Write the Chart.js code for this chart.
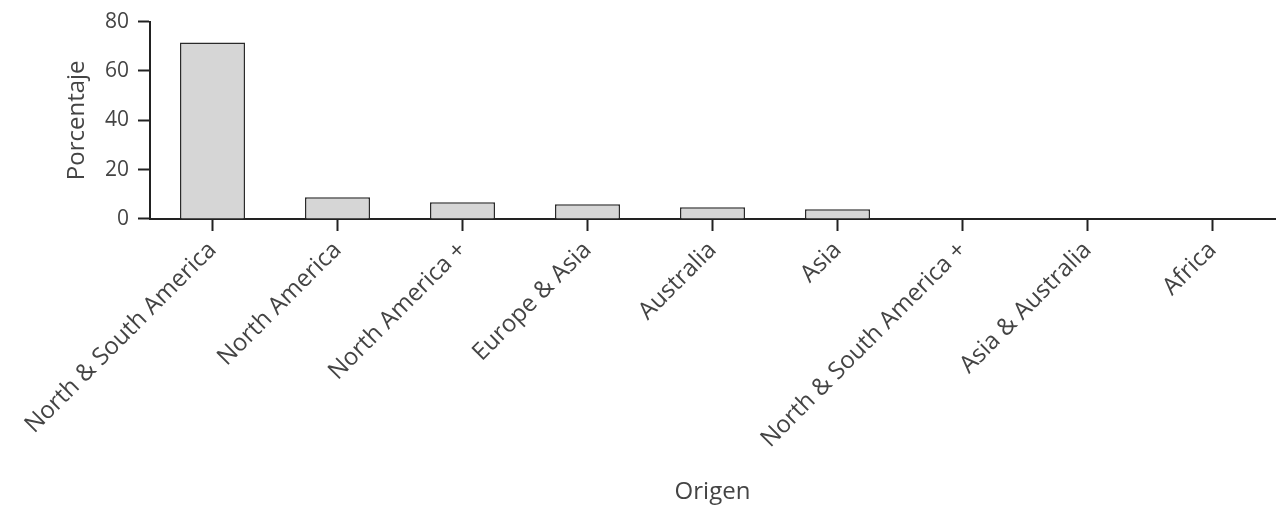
<!DOCTYPE html>
<html>
<head>
<meta charset="utf-8">
<script src="https://cdn.jsdelivr.net/npm/chart.js@4"></script>
<style>
    html, body { margin: 0; padding: 0; background: #fff; }
    #wrap { width: 1278px; height: 515px; }
</style>
</head>
<body>
<div id="wrap"><canvas id="chart1"></canvas></div>
<script>
const origenes = ['North & South America', 'North America', 'North America +', 'Europe & Asia',
    'Australia', 'Asia', 'North & South America +', 'Asia & Australia', 'Africa'];
const porcentajes = [71.5, 8.8, 6.8, 6.0, 4.8, 4.0, 0.3, 0.3, 0.2];
const yTicks = [0, 20, 40, 60, 80];

window.onload = function() {
    const ctx1 = document.getElementById('chart1').getContext('2d');
    const fuenteEje = { family: 'Open Sans', size: 24 };
    const fuenteTicks = { family: 'Open Sans', size: 21 };

    const data1 = {
        labels: origenes,
        datasets: [{
            label: 'Porcentaje',
            data: porcentajes,
            backgroundColor: '#d6d6d6',
            borderColor: '#2a2a2a',
            borderWidth: 1.5,
            barPercentage: 0.52,
            categoryPercentage: 1.0,
        }]
    };

    const config1 = {
        type: 'bar',
        data: data1,
        options: {
            responsive: true,
            maintainAspectRatio: false,
            animation: false,
            layout: { padding: { top: 19, right: 3, left: 59, bottom: 0 } },
            plugins: {
                legend: { display: false },
                tooltip: { enabled: false }
            },
            scales: {
                x: {
                    offset: true,
                    grid: { drawOnChartArea: false, offset: false, tickLength: 12, tickColor: '#222', tickWidth: 2 },
                    border: { color: '#222', width: 2 },
                    ticks: { minRotation: 45, maxRotation: 45, color: '#444', font: fuenteEje, padding: 5 },
                    title: { display: true, text: 'Origen', color: '#444', font: fuenteEje, padding: { top: 0, bottom: 8 } },
                    afterFit: scale => { scale.height = 296; }
                },
                y: {
                    min: 0,
                    max: 80,
                    afterBuildTicks: scale => { scale.ticks = yTicks.map(v => ({ value: v })); },
                    grid: { drawOnChartArea: false, tickLength: 12, tickColor: '#222', tickWidth: 2 },
                    border: { color: '#222', width: 2 },
                    ticks: { color: '#444', font: fuenteTicks, padding: 9 },
                    title: { display: true, text: 'Porcentaje', color: '#444', font: fuenteEje },
                    afterFit: scale => { scale.width = 91; }
                }
            }
        }
    };

    new Chart(ctx1, config1);
};
</script>
</body>
</html>
